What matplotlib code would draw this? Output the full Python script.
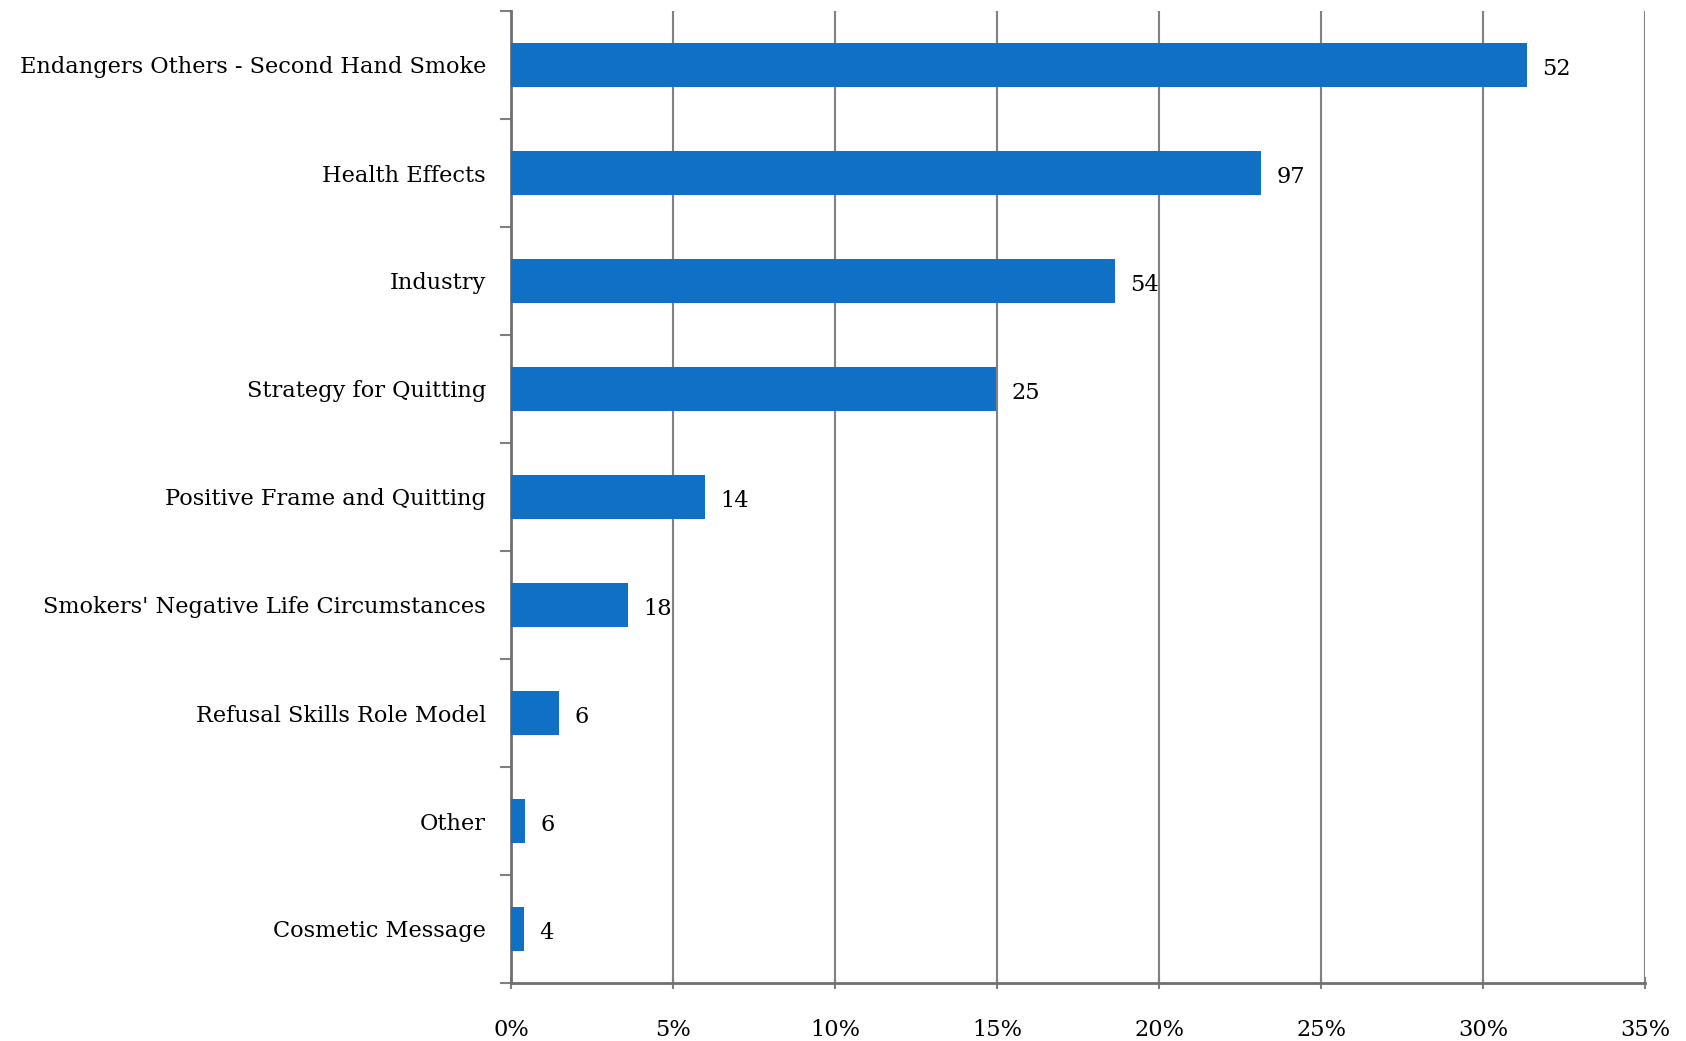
import matplotlib
matplotlib.use("Agg")
import matplotlib.pyplot as plt
from matplotlib.ticker import FixedLocator, PercentFormatter

categories = [
    "Endangers Others - Second Hand Smoke",
    "Health Effects",
    "Industry",
    "Strategy for Quitting",
    "Positive Frame and Quitting",
    "Smokers' Negative Life Circumstances",
    "Refusal Skills Role Model",
    "Other",
    "Cosmetic Message",
]
share_pct = [31.35, 23.15, 18.65, 14.97, 5.98, 3.62, 1.49, 0.44, 0.40]
counts = [52, 97, 54, 25, 14, 18, 6, 6, 4]
x_ticks = [0, 5, 10, 15, 20, 25, 30, 35]

plt.rcParams["font.family"] = ["DejaVu Serif", "Liberation Serif"]
fs = 16.2

fig = plt.figure(figsize=(16.86, 10.41), dpi=100)
ax = fig.add_axes([511 / 1686, 1 - 983 / 1041, (1645 - 511) / 1686, (983 - 11) / 1041])

n = len(categories)
ypos = list(range(n))
bar_color = "#1070C4"
ax.barh(ypos, share_pct, height=0.41, color=bar_color, zorder=3)

for y, v, c in zip(ypos, share_pct, counts):
    ax.annotate(str(c), xy=(v, y), xytext=(11, -3), textcoords="offset points",
                va="center", ha="left", fontsize=fs, color="black")

ax.set_xlim(0, 35)
ax.set_ylim(n - 0.5, -0.5)
ax.xaxis.set_major_locator(FixedLocator(x_ticks))
ax.xaxis.set_major_formatter(PercentFormatter(decimals=0))
ax.grid(axis="x", color="#808080", linewidth=1.5, zorder=0)

# category labels centred on bars, tick marks between categories
ax.set_yticks([i - 0.5 for i in range(n + 1)])
ax.set_yticklabels([])
ax.set_yticks(ypos, minor=True)
ax.set_yticklabels(categories, minor=True, fontsize=fs)
ax.tick_params(axis="y", which="minor", length=0, pad=18)
ax.tick_params(axis="y", which="major", length=8, width=1.5, color="#808080", direction="out")
ax.tick_params(axis="x", length=8, width=1.5, color="#808080", direction="inout",
               labelsize=fs, pad=22)

for side in ("top", "right"):
    ax.spines[side].set_visible(False)
for side in ("left", "bottom"):
    ax.spines[side].set_color("#707070")
    ax.spines[side].set_linewidth(2)

fig.savefig("out.png", dpi=100, facecolor="white")
